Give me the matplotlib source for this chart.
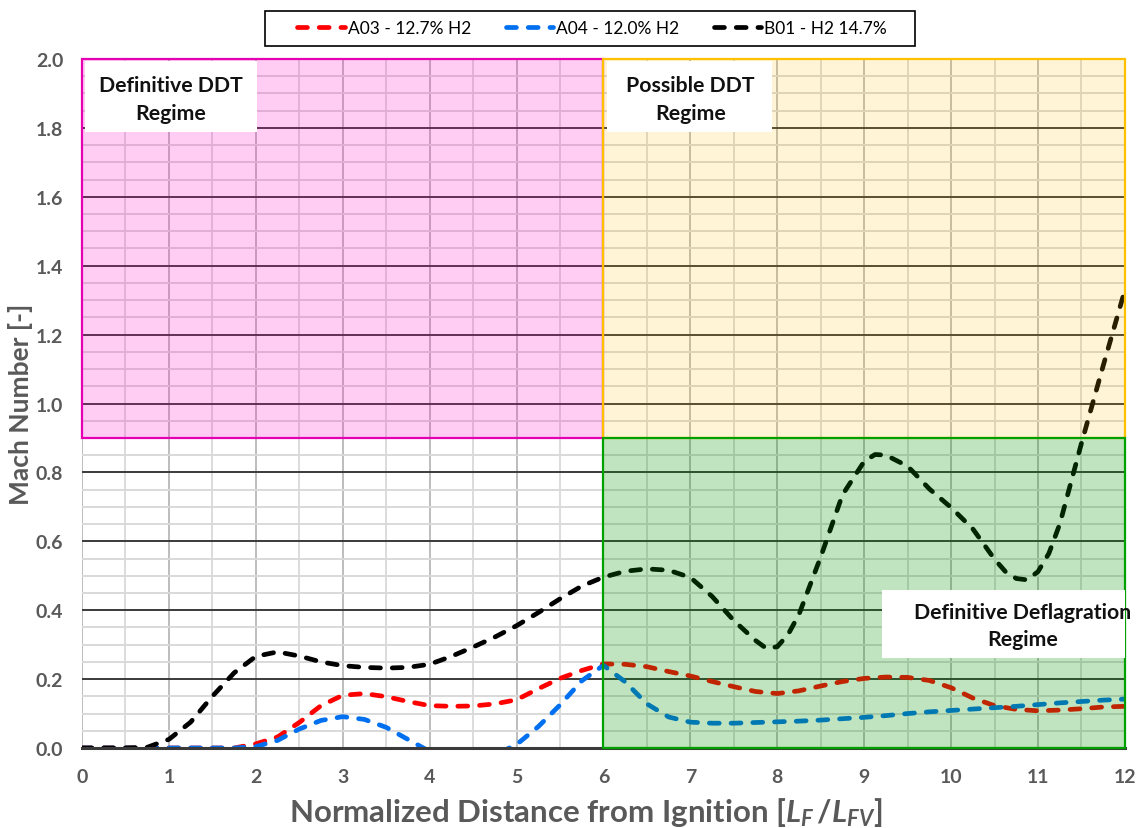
import matplotlib
matplotlib.use("Agg")
import matplotlib.pyplot as plt
from matplotlib.patches import Rectangle
from matplotlib.lines import Line2D

plt.rcParams['font.family'] = ['Lato', 'DejaVu Sans']
plt.rcParams['mathtext.fontset'] = 'custom'
plt.rcParams['mathtext.rm'] = 'Lato:bold'
plt.rcParams['mathtext.it'] = 'Lato:bold:italic'

# Normalized distance from ignition (L_F / L_FV) and flame Mach number per test
dist_a = [0.0, 0.25, 0.5, 0.75, 1.0, 1.25, 1.5, 1.75, 2.0, 2.25, 2.5, 2.75,
          3.0, 3.25, 3.5, 3.75, 4.0, 4.25, 4.5, 4.75, 5.0, 5.25, 5.5, 5.75,
          6.0, 6.25, 6.5, 6.75, 7.0, 7.25, 7.5, 7.75, 8.0, 8.25, 8.5, 8.75,
          9.0, 9.25, 9.5, 9.75, 10.0, 10.25, 10.5, 10.75, 11.0, 11.25, 11.5,
          11.75, 12.0]

mach_a03 = [0.0, 0.0, 0.0, 0.0, 0.0, 0.0, 0.0, 0.0, 0.012, 0.032, 0.074, 0.123,
            0.153, 0.158, 0.149, 0.135, 0.123, 0.121, 0.122, 0.128, 0.140, 0.172,
            0.202, 0.225, 0.244, 0.243, 0.236, 0.222, 0.209, 0.193, 0.178, 0.164,
            0.158, 0.166, 0.180, 0.193, 0.202, 0.206, 0.205, 0.196, 0.175, 0.145,
            0.123, 0.112, 0.108, 0.110, 0.114, 0.119, 0.121]

mach_a04 = [0.0, 0.0, 0.0, 0.0, 0.0, 0.0, 0.0, 0.0, 0.004, 0.022, 0.055, 0.080,
            0.091, 0.083, 0.060, 0.025, -0.010, -0.030, -0.035, -0.020, 0.010,
            0.062, 0.125, 0.195, 0.240, 0.192, 0.128, 0.090, 0.075, 0.072, 0.072,
            0.074, 0.076, 0.078, 0.081, 0.085, 0.089, 0.094, 0.100, 0.105, 0.109,
            0.113, 0.117, 0.121, 0.126, 0.131, 0.135, 0.139, 0.142]

dist_b = [0.0, 0.25, 0.5, 0.75, 1.0, 1.25, 1.5, 1.75, 2.0, 2.25, 2.5, 2.75,
          3.0, 3.25, 3.5, 3.75, 4.0, 4.25, 4.5, 4.75, 5.0, 5.25, 5.5, 5.75,
          6.0, 6.25, 6.5, 6.75, 7.0, 7.25, 7.5, 7.75, 7.875, 8.0, 8.125, 8.25,
          8.5, 8.75, 9.0, 9.125, 9.25, 9.5, 9.75, 10.0, 10.25, 10.5, 10.625,
          10.75, 10.875, 11.0, 11.125, 11.25, 11.5, 11.75, 12.0]

mach_b01 = [0.0, 0.0, 0.0, 0.002, 0.025, 0.075, 0.150, 0.218, 0.266, 0.279,
            0.267, 0.250, 0.239, 0.234, 0.232, 0.234, 0.243, 0.266, 0.293, 0.322,
            0.355, 0.393, 0.433, 0.470, 0.496, 0.513, 0.520, 0.516, 0.495, 0.440,
            0.370, 0.312, 0.289, 0.294, 0.330, 0.388, 0.555, 0.735, 0.832, 0.852,
            0.850, 0.818, 0.752, 0.698, 0.636, 0.548, 0.512, 0.492, 0.488, 0.512,
            0.565, 0.650, 0.885, 1.110, 1.330]

series_labels = ['A03 - 12.7% H2', 'A04 - 12.0% H2', 'B01 - H2 14.7%']
series_colors = ['#ff0000', '#0070f0', '#000000']

x_ticks = list(range(0, 13))
y_ticks = [0.0, 0.2, 0.4, 0.6, 0.8, 1.0, 1.2, 1.4, 1.6, 1.8, 2.0]

# Regime regions: (x0, x1, y0, y1, fill colour, alpha, edge colour)
regimes = [
    (0, 6, 0.9, 2.0, '#ff00cc', 0.20, '#e600b4'),
    (6, 12, 0.9, 2.0, '#ffc000', 0.16, '#ffc000'),
    (6, 12, 0.0, 0.9, '#009600', 0.25, '#00a000'),
]
# Regime captions: text, centre x, centre y, white box (x0, x1, y0, y1)
regime_labels = [
    ('Definitive DDT\nRegime', 1.02, 1.884, (0.035, 2.01, 1.787, 1.994)),
    ('Possible DDT\nRegime', 7.0, 1.884, (6.04, 7.94, 1.787, 1.994)),
    ('Definitive Deflagration\nRegime', 10.82, 0.355, (9.2, 12.0, 0.261, 0.459)),
]

fig = plt.figure(figsize=(11.37, 8.29), dpi=100)
ax = fig.add_axes([0.0721, 0.0965, 0.9173, 0.8311])

ax.set_xlim(0, 12)
ax.set_ylim(0, 2.0)
ax.set_xticks(x_ticks)
ax.set_xticks([v + 0.5 for v in x_ticks[:-1]], minor=True)
ax.set_yticks(y_ticks)
ax.set_yticks([v / 100 for v in range(5, 200, 5) if v % 20], minor=True)
ax.set_yticklabels([f'{v:.1f}' for v in y_ticks])
ax.set_xticklabels([str(v) for v in x_ticks])

ax.grid(which='major', axis='y', color='#3a3a3a', lw=1.4, zorder=0.6)
ax.grid(which='minor', axis='y', color='#d9d9d9', lw=1.4, zorder=0.4)
ax.grid(which='major', axis='x', color='#bdbdbd', lw=1.4, zorder=0.5)
ax.grid(which='minor', axis='x', color='#d9d9d9', lw=1.3, zorder=0.4)
ax.set_axisbelow(True)

for side in ['top', 'right', 'left']:
    ax.spines[side].set_visible(False)
ax.spines['bottom'].set_color('#3a3a3a')
ax.spines['bottom'].set_linewidth(2.2)

ax.tick_params(which='both', length=0)
ax.tick_params(axis='y', pad=13.5, labelsize=14, labelcolor='#595959')
ax.tick_params(axis='x', pad=14.5, labelsize=14, labelcolor='#595959')
for lbl in ax.get_xticklabels() + ax.get_yticklabels():
    lbl.set_fontweight('bold')

dash = (2.1, 2.5)
for xs, vals, lab, col in zip([dist_a, dist_a, dist_b],
                              [mach_a03, mach_a04, mach_b01],
                              series_labels, series_colors):
    ax.plot(xs, vals, color=col, lw=3.4, linestyle=(0, dash),
            dash_capstyle='round', solid_capstyle='round', label=lab, zorder=2)

for x0, x1, y0, y1, fc, a, ec in regimes:
    ax.add_patch(Rectangle((x0, y0), x1 - x0, y1 - y0, facecolor=fc, alpha=a,
                           edgecolor='none', zorder=3))
    ax.add_patch(Rectangle((x0, y0), x1 - x0, y1 - y0, facecolor='none',
                           edgecolor=ec, lw=1.6, zorder=3.5, clip_on=False))

for txt, tx, ty, (bx0, bx1, by0, by1) in regime_labels:
    ax.add_patch(Rectangle((bx0, by0), bx1 - bx0, by1 - by0, facecolor='white',
                           edgecolor='none', zorder=4))
    ax.text(tx, ty, txt, ha='center', va='center', fontsize=15.3,
            fontweight='bold', color='#111111', linespacing=1.45, zorder=5,
            clip_on=False)

ax.set_ylabel('Mach Number [-]', fontsize=19, fontweight='bold',
              color='#595959', labelpad=2)
ax.set_xlabel(r'Normalized Distance from Ignition [$L_F\,/L_{FV}$]', fontsize=22.5,
              fontweight='bold', color='#595959', labelpad=4)
ax.xaxis.set_label_coords(0.483, -0.068)

# Legend across the top, inside a plain rectangular frame
fig.patches.append(Rectangle((265 / 1137, 1 - 47 / 829), 650 / 1137, 35 / 829,
                             transform=fig.transFigure, facecolor='white',
                             edgecolor='#000000', lw=1.2, zorder=1))
handles = [Line2D([], [], color=c, lw=3.4, linestyle=(0, dash),
                  dash_capstyle='round') for c in series_colors]
leg = fig.legend(handles, series_labels, loc='center',
                 bbox_to_anchor=(592 / 1137, 1 - 29.5 / 829), ncol=3,
                 frameon=False, fontsize=12.5, handlelength=2.75,
                 handletextpad=0.15, columnspacing=2.0, borderpad=0.2)
leg.set_zorder(2)

fig.savefig('out.png', dpi=100)
